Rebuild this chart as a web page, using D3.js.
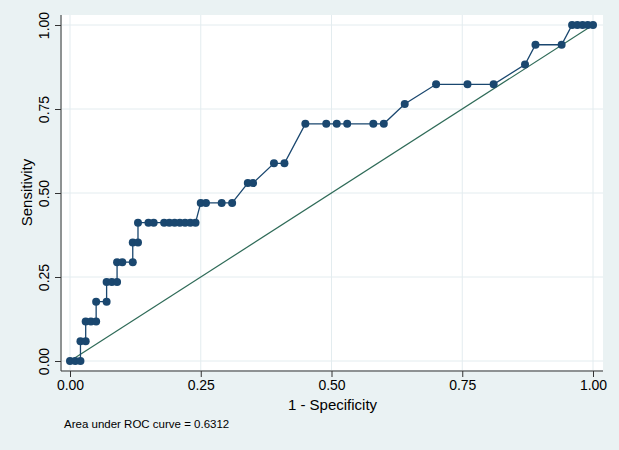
<!DOCTYPE html>
<html>
<head>
<meta charset="utf-8">
<script src="https://cdn.jsdelivr.net/npm/d3@7"></script>
<style>
  body { margin: 0; background: #eaf2f3; }
  text { font-family: "Liberation Sans", Arial, sans-serif; fill: #000; }
</style>
</head>
<body>
<script>
// ROC points: 1 - specificity, and true positives out of 17
var fpr = [0.000, 0.010, 0.020, 0.020, 0.030, 0.030, 0.040, 0.050, 0.050, 0.070,
           0.070, 0.080, 0.090, 0.090, 0.100, 0.120, 0.120, 0.130, 0.130, 0.150,
           0.160, 0.180, 0.190, 0.200, 0.210, 0.220, 0.230, 0.240, 0.250, 0.260,
           0.290, 0.310, 0.340, 0.350, 0.390, 0.410, 0.450, 0.490, 0.510, 0.530,
           0.580, 0.600, 0.640, 0.700, 0.760, 0.810, 0.870, 0.890, 0.940, 0.960,
           0.970, 0.980, 0.990, 1.000];
var tp  = [0, 0, 0, 1, 1, 2, 2, 2, 3, 3,
           4, 4, 4, 5, 5, 5, 6, 6, 7, 7,
           7, 7, 7, 7, 7, 7, 7, 7, 8, 8,
           8, 8, 9, 9, 10, 10, 12, 12, 12, 12,
           12, 12, 13, 14, 14, 14, 15, 16, 16, 17,
           17, 17, 17, 17];
var positives = 17;
var ticks = [0, 0.25, 0.5, 0.75, 1];
var areaNote = "Area under ROC curve = 0.6312";

var W = 619, H = 450;
var plot = {left: 62, right: 603, top: 15, bottom: 370};

var svg = d3.select("body").append("svg")
            .attr("width", W)
            .attr("height", H);

svg.append("rect")
   .attr("width", W).attr("height", H)
   .attr("fill", "#eaf2f3");

svg.append("rect")
   .attr("x", plot.left).attr("y", plot.top)
   .attr("width", plot.right - plot.left)
   .attr("height", plot.bottom - plot.top)
   .attr("fill", "#fff");

var x = d3.scaleLinear().domain([0, 1]).range([70, 593]);
var y = d3.scaleLinear().domain([0, 1]).range([361, 25]);

// grid
svg.append("g").selectAll("line").data(ticks).join("line")
   .attr("x1", d => x(d)).attr("x2", d => x(d))
   .attr("y1", plot.top).attr("y2", plot.bottom)
   .attr("stroke", "#e3ecef").attr("stroke-width", 1);
svg.append("g").selectAll("line").data(ticks).join("line")
   .attr("x1", plot.left).attr("x2", plot.right)
   .attr("y1", d => y(d)).attr("y2", d => y(d))
   .attr("stroke", "#e3ecef").attr("stroke-width", 1);

// axes
var xAxis = svg.append("g")
   .attr("transform", "translate(0," + (plot.bottom + 1) + ")")
   .call(d3.axisBottom(x).tickValues(ticks).tickFormat(d3.format(".2f"))
           .tickSizeOuter(0).tickSize(6).tickPadding(3));
xAxis.select(".domain").attr("d", "M" + (plot.left - 1) + ",0H" + plot.right);

var yAxis = svg.append("g")
   .attr("transform", "translate(" + (plot.left - 1) + ",0)")
   .call(d3.axisLeft(y).tickValues(ticks).tickFormat(d3.format(".2f"))
           .tickSizeOuter(0).tickSize(6).tickPadding(3));
yAxis.select(".domain").attr("d", "M0," + plot.top + "V" + (plot.bottom + 1));

svg.selectAll(".domain, .tick line").attr("stroke", "#333").attr("stroke-width", 1);
xAxis.selectAll("text").attr("font-size", 14).attr("fill", "#000");
yAxis.selectAll("text")
     .attr("font-size", 14).attr("fill", "#000")
     .attr("text-anchor", "middle")
     .attr("transform", "rotate(-90)")
     .attr("x", 0).attr("dx", 0)
     .attr("y", -12).attr("dy", 0);

// reference line
svg.append("line")
   .attr("x1", x(0)).attr("y1", y(0))
   .attr("x2", x(1)).attr("y2", y(1))
   .attr("stroke", "#2f6b58").attr("stroke-width", 1.2);

// ROC curve
var pts = fpr.map((d, i) => [d, tp[i] / positives]);
svg.append("path")
   .datum(pts)
   .attr("d", d3.line().x(d => x(d[0])).y(d => y(d[1])))
   .attr("fill", "none")
   .attr("stroke", "#1a476f").attr("stroke-width", 1.3);

svg.append("g").selectAll("circle").data(pts).join("circle")
   .attr("cx", d => x(d[0])).attr("cy", d => y(d[1]))
   .attr("r", 4)
   .attr("fill", "#1a476f");

// titles
svg.append("text")
   .attr("x", (plot.left + plot.right) / 2).attr("y", 410)
   .attr("text-anchor", "middle").attr("font-size", 15)
   .text("1 - Specificity");

svg.append("text")
   .attr("transform", "translate(32," + ((plot.top + plot.bottom) / 2) + ") rotate(-90)")
   .attr("text-anchor", "middle").attr("font-size", 15)
   .text("Sensitivity");

svg.append("text")
   .attr("x", 64).attr("y", 428)
   .attr("font-size", 11.5)
   .text(areaNote);
</script>
</body>
</html>
